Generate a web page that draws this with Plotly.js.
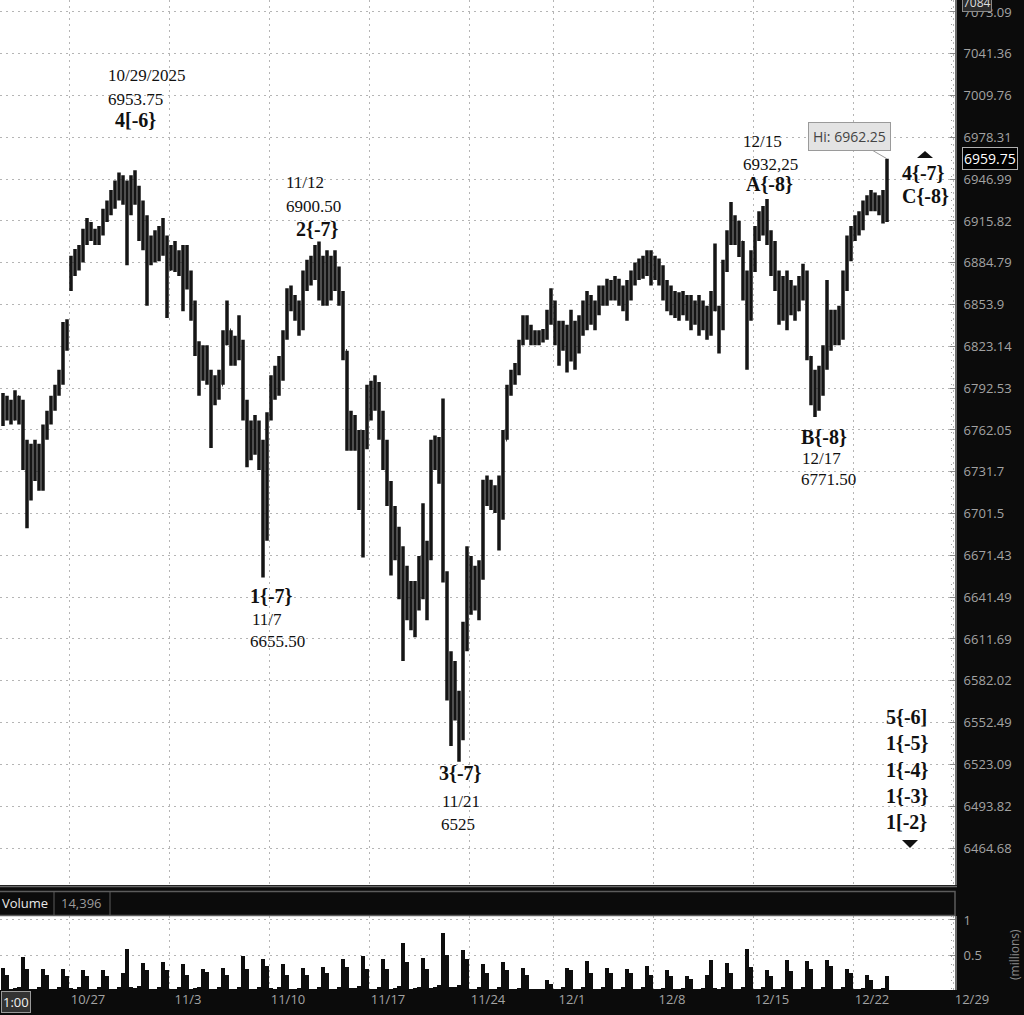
<!DOCTYPE html>
<html><head><meta charset="utf-8">
<script src="https://cdn.plot.ly/plotly-3.0.1.min.js"></script>
<style>html,body{margin:0;padding:0;background:#0b0b0b;}#chart{width:1024px;height:1015px;}</style>
</head><body><div id="chart"></div>
<script>
// ---- data (bar = ~1/5 trading day) ----
const openP = [
6780,6772,6782,6770,6786,6775,6740,6715,6735,6740,6725,6760,6770,6782,6790,6800,6838,
6866,6882,6885,6892,6905,6910,6905,6902,6908,6920,6926,6935,6940,6945,6938,6930,6940,6935,6910,6900,6885,6895,6890,6900,6895,
6880,6890,6885,6880,6870,6875,6850,6825,6800,6810,6800,6785,6790,6795,6825,6835,6815,6825,6820,6780,6745,6755,6750,6740,6690,
6772,6795,6800,6810,6830,6860,6855,6848,6840,6875,6880,6885,6895,6880,6870,6885,6875,6880,6860,6820,6760,6770,6750,6720,6750,
6785,6790,6795,6770,6745,6715,6700,6690,6660,6630,6645,6625,6640,6660,6680,6670,6740,6750,6735,6655,6580,6560,6570,6545,6610,
6640,6645,6650,6660,6715,6720,6710,6715,6700,6755,6790,6800,6808,6825,6840,6835,6830,6832,6828,6832,6845,
6850,6830,6825,6835,6815,6830,6820,6840,6850,6845,6850,6855,6860,6858,6865,6862,6868,6860,6855,6870,6875,6880,6885,6882,6888,
6875,6885,6870,6860,6855,6850,6852,6848,6855,6850,6845,6850,6840,6845,6835,6855,6850,6840,6880,6902,6915,6905,6900,6870,6850,
6880,6905,6915,6920,6905,6885,6870,6850,6865,6855,6860,6850,6865,6870,6815,6790,6785,6800,6815,6830,6835,6830,6845,6870,6895,
6905,6912,6920,6928,6930,6935,6928,6932,6925];
const highP = [
6789,6787,6784,6791,6787,6784,6755,6752,6755,6752,6766,6776,6787,6795,6806,6841,6843,
6890,6895,6898,6910,6918,6915,6910,6912,6925,6931,6939,6946,6952,6950,6946,6950,6953.75,6942,6931,6920,6905,6909,6912,6918,6905,
6898,6901,6894,6898,6898,6879,6857,6827,6824,6824,6806,6802,6806,6835,6857,6835,6831,6846,6828,6784,6769,6773,6769,6755,6775,
6802,6809,6816,6835,6866,6868,6861,6857,6879,6887,6890,6898,6900.5,6890,6894,6890,6894,6882,6864,6820,6776,6773,6762,6762,6795,
6798,6802,6797,6776,6755,6725,6707,6692,6678,6664,6653,6653,6671,6709,6682,6755,6758,6757,6785,6660,6603,6596,6575,6624,6678,
6671,6664,6668,6726,6729,6726,6722,6729,6762,6795,6806,6811,6828,6846,6846,6839,6835,6835,6836,6850,6866,
6857,6842,6842,6839,6850,6842,6846,6857,6864,6861,6857,6868,6868,6873,6872,6875,6873,6868,6872,6879,6885,6888,6890,6894,6894,
6890,6888,6883,6872,6868,6864,6863,6864,6861,6861,6857,6861,6857,6853,6864,6899,6853,6887,6909,6930,6920,6916,6901,6879,6894,
6912,6923,6927,6932.25,6909,6901,6879,6875,6879,6872,6868,6875,6884,6879,6816,6806,6809,6824,6872,6850,6850,6853,6879,6905,6912,
6920,6923,6931,6935,6939,6937,6935,6939,6962.25];
const lowP = [
6765,6769,6766,6769,6766,6733,6691,6711,6725,6718,6718,6755,6766,6776,6787,6795,6820,
6864,6875,6879,6885,6898,6901,6898,6898,6905,6915,6920,6925,6931,6928,6883,6920,6928,6901,6894,6853,6883,6885,6886,6890,6844,
6879,6878,6875,6849,6865,6842,6816,6787,6798,6795,6749,6780,6784,6795,6824,6809,6809,6813,6769,6735,6740,6744,6733,6655.5,6682,
6769,6784,6787,6798,6828,6849,6842,6831,6835,6864,6868,6872,6857,6853,6853,6857,6864,6853,6813,6747,6747,6747,6704,6670,6748,
6769,6776,6755,6733,6707,6657,6668,6640,6596,6625,6618,6613,6632,6640,6625,6668,6733,6723,6652,6568,6536,6554,6525,6540,6603,
6629,6632,6625,6654,6707,6704,6702,6675,6697,6755,6787,6795,6802,6824,6828,6824,6824,6824,6826,6828,6839,
6824,6809,6820,6804,6812,6806,6818,6831,6835,6839,6835,6846,6853,6853,6857,6857,6853,6849,6842,6857,6868,6872,6873,6875,6868,
6872,6868,6857,6849,6846,6844,6842,6846,6842,6835,6839,6831,6835,6828,6831,6849,6818,6835,6878,6898,6898,6889,6857,6806,6842,
6878,6901,6905,6898,6875,6864,6839,6842,6835,6846,6842,6849,6857,6813,6780,6771.5,6776,6787,6806,6820,6824,6824,6828,6864,6886,
6901,6905,6909,6920,6923,6923,6920,6914,6915];
const closeP = [
6772,6782,6770,6786,6775,6740,6715,6735,6740,6725,6760,6770,6782,6790,6800,6838,6830,
6882,6885,6892,6905,6910,6905,6902,6908,6920,6926,6935,6940,6945,6938,6930,6940,6935,6910,6900,6885,6895,6890,6900,6895,6880,
6890,6885,6880,6870,6875,6850,6825,6800,6810,6800,6785,6790,6795,6825,6835,6815,6825,6820,6780,6745,6755,6750,6740,6690,6772,
6795,6800,6810,6830,6860,6855,6848,6840,6875,6880,6885,6895,6880,6870,6885,6875,6880,6860,6820,6760,6770,6750,6720,6750,6785,
6790,6795,6770,6745,6715,6700,6690,6660,6630,6645,6625,6640,6660,6680,6670,6740,6750,6735,6655,6580,6560,6570,6545,6610,6640,
6645,6650,6660,6715,6720,6710,6715,6700,6755,6790,6800,6808,6825,6840,6835,6830,6832,6828,6832,6845,6850,
6830,6825,6835,6815,6830,6820,6840,6850,6845,6850,6855,6860,6858,6865,6862,6868,6860,6855,6870,6875,6880,6885,6882,6888,6875,
6885,6870,6860,6855,6850,6852,6848,6855,6850,6845,6850,6840,6845,6835,6855,6850,6840,6880,6902,6915,6905,6900,6870,6850,6880,
6905,6915,6920,6905,6885,6870,6850,6865,6855,6860,6850,6865,6870,6815,6790,6785,6800,6815,6830,6835,6830,6845,6870,6895,6905,
6912,6920,6928,6930,6935,6928,6932,6925,6959.75];
// volume in millions
const volumeM = [
0.31,0.22,
0.02,0.03,0.05,0.47,0.30, 0.02,0.02,0.05,0.30,0.22, 0.02,0.02,0.04,0.30,0.20,
0.03,0.02,0.05,0.29,0.20, 0.02,0.02,0.04,0.28,0.20, 0.02,0.02,0.05,0.25,0.59, 0.04,0.03,0.06,0.39,0.28, 0.02,0.02,0.05,0.40,0.28,
0.02,0.02,0.04,0.37,0.22, 0.02,0.03,0.05,0.30,0.26, 0.02,0.02,0.05,0.31,0.22, 0.02,0.02,0.05,0.48,0.30, 0.02,0.02,0.05,0.45,0.35,
0.03,0.02,0.04,0.37,0.22, 0.02,0.02,0.03,0.31,0.22, 0.02,0.02,0.04,0.33,0.24, 0.02,0.02,0.05,0.45,0.33, 0.03,0.03,0.06,0.48,0.30,
0.02,0.02,0.05,0.45,0.30, 0.02,0.03,0.06,0.67,0.40, 0.02,0.03,0.05,0.46,0.30, 0.03,0.04,0.07,0.82,0.50, 0.04,0.04,0.07,0.57,0.45,
0.02,0.02,0.04,0.37,0.25, 0.02,0.02,0.04,0.40,0.28, 0.02,0.02,0.03,0.31,0.22, 0.01,0.01,0.02, 0.01,0.14,0.08,
0.02,0.02,0.04,0.31,0.28, 0.02,0.02,0.04,0.41,0.25, 0.02,0.02,0.04,0.31,0.24, 0.02,0.02,0.04,0.30,0.24, 0.02,0.02,0.04,0.35,0.22,
0.02,0.02,0.03,0.28,0.20, 0.02,0.02,0.03,0.20,0.16, 0.02,0.02,0.03,0.22,0.43, 0.03,0.02,0.04,0.38,0.25, 0.02,0.02,0.04,0.59,0.33,
0.02,0.02,0.04,0.29,0.20, 0.02,0.02,0.05,0.43,0.27, 0.02,0.02,0.04,0.41,0.30, 0.02,0.02,0.05,0.43,0.35, 0.02,0.02,0.04,0.30,0.25,
0.02,0.02,0.03,0.22,0.15, 0.02,0.02,0.03,0.20];
// week boundaries (bar index) and labels
const weekPos = [16.5,41.5,66.5,91.5,116.5,137.5,162.5,187.5,212.5,237.5];
const weekLabels = ['10/27','11/3','11/10','11/17','11/24','12/1','12/8','12/15','12/22','12/29'];
const priceTicks = [7073.09,7041.36,7009.76,6978.31,6946.99,6915.82,6884.79,6853.9,6823.14,6792.53,6762.05,6731.7,6701.5,6671.43,6641.49,6611.69,6582.02,6552.49,6523.09,6493.82,6464.68];
const priceTickText = priceTicks.map(v => String(v));
const volTicks = [0.5, 1];
const volTickText = ['0.5', '1'];

const idx = openP.map((_, i) => i);
const W = 1024, H = 1015;
const px = x => x / W, py = y => 1 - y / H;

const ohlc = {
  type: 'ohlc', x: idx, open: openP, high: highP, low: lowP, close: closeP,
  xaxis: 'x', yaxis: 'y', hoverinfo: 'skip', tickwidth: 0.2,
  increasing: {line: {color: '#151515', width: 3.5}},
  decreasing: {line: {color: '#151515', width: 3.5}}
};
const vol = {
  type: 'bar', x: idx, y: volumeM, xaxis: 'x2', yaxis: 'y2', hoverinfo: 'skip',
  marker: {color: '#0d0d0d', line: {width: 0}}, width: 0.8
};

const axFont = {family: 'Open Sans, Noto Sans, sans-serif', size: 13, color: '#a3a3a3'};
const gridC = '#b5b5b5', gridD = '2px,4px';
const serif = 'Liberation Serif, Times New Roman, serif';

function T(text, x, y, size, bold) {
  return {text: bold ? '<b>' + text + '</b>' : text, xref: 'paper', yref: 'paper',
    x: px(x), y: py(y), xanchor: 'left', yanchor: 'middle', showarrow: false,
    font: {family: serif, size: size, color: '#111'}};
}
const annotations = [
  T('10/29/2025', 106, 76, 17), T('6953.75', 106, 99, 17), T('4[-6}', 113, 120, 20, true),
  T('11/12', 284, 183, 17), T('6900.50', 284, 206, 17), T('2{-7}', 294, 229, 20, true),
  T('1{-7}', 248, 596, 20, true), T('11/7', 250, 619, 17), T('6655.50', 248, 641, 17),
  T('3{-7}', 437, 773, 20, true), T('11/21', 440, 801, 17), T('6525', 439, 824, 17),
  T('12/15', 741, 142, 17), T('6932,25', 741, 164, 17), T('A{-8}', 744, 184, 20, true),
  T('B{-8}', 799, 437, 20, true), T('12/17', 800, 458, 17), T('6771.50', 799, 479, 17),
  T('4{-7}', 900, 173, 20, true), T('C{-8}', 900, 196, 20, true),
  T('5{-6]', 884, 717, 20, true), T('1{-5}', 884, 743, 20, true), T('1{-4}', 884, 770, 20, true),
  T('1{-3}', 884, 796, 20, true), T('1[-2}', 884, 822, 20, true),
  {text: 'Hi: 6962.25', x: idx[idx.length - 1], y: Math.log10(highP[highP.length - 1]), xref: 'x', yref: 'y',
   showarrow: true, arrowhead: 0, arrowwidth: 1, arrowcolor: '#9a9a9a', ax: -38, ay: -22, standoff: 0,
   bgcolor: '#e3e3e3', bordercolor: '#9a9a9a', borderwidth: 1, borderpad: 4,
   font: {family: 'Open Sans, sans-serif', size: 14, color: '#444'}},
  {text: closeP[closeP.length - 1].toFixed(2), xref: 'paper', yref: 'paper', x: px(962), y: py(158),
   xanchor: 'left', yanchor: 'middle', showarrow: false, bgcolor: '#000', bordercolor: '#b0b0b0',
   borderwidth: 1, borderpad: 1, font: {family: 'Open Sans, sans-serif', size: 14, color: '#fff'}},
  {text: '7084', xref: 'paper', yref: 'paper', x: px(962), y: py(3), xanchor: 'left', yanchor: 'middle',
   showarrow: false, bgcolor: '#2b2b2b', bordercolor: '#8a8a8a', borderwidth: 1, borderpad: 0,
   font: {family: 'Open Sans, sans-serif', size: 12, color: '#ddd'}},
  {text: '1:00', xref: 'paper', yref: 'paper', x: px(1), y: py(1002), xanchor: 'left', yanchor: 'middle',
   showarrow: false, bgcolor: '#333', bordercolor: '#9a9a9a', borderwidth: 1, borderpad: 1,
   font: {family: 'Open Sans, sans-serif', size: 13, color: '#f0f0f0'}},
  {text: 'Volume', xref: 'paper', yref: 'paper', x: px(0), y: py(903), xanchor: 'left', yanchor: 'middle',
   showarrow: false, font: {family: 'Open Sans, sans-serif', size: 13, color: '#e8e8e8'}},
  {text: '14,396', xref: 'paper', yref: 'paper', x: px(59), y: py(903), xanchor: 'left', yanchor: 'middle',
   showarrow: false, font: {family: 'Open Sans, sans-serif', size: 13, color: '#9a9a9a'}},
  {text: '(millions)', xref: 'paper', yref: 'paper', x: px(1014), y: py(955), xanchor: 'center', yanchor: 'middle',
   textangle: -90, showarrow: false, font: {family: 'Open Sans, sans-serif', size: 12, color: '#8a8a8a'}}
];

const shapes = [
  {type: 'line', xref: 'paper', yref: 'paper', x0: 0, x1: px(957), y0: py(886.5), y1: py(886.5), line: {color: '#6a6a6a', width: 1.5}},
  {type: 'rect', xref: 'paper', yref: 'paper', x0: px(-2), x1: px(955), y0: py(891.5), y1: py(915.5), fillcolor: '#0b0b0b', line: {color: '#5c5c5c', width: 1.5}},
  {type: 'line', xref: 'paper', yref: 'paper', x0: px(54), x1: px(54), y0: py(891.5), y1: py(915.5), line: {color: '#5c5c5c', width: 1}},
  {type: 'line', xref: 'paper', yref: 'paper', x0: px(110), x1: px(110), y0: py(891.5), y1: py(915.5), line: {color: '#5c5c5c', width: 1}},
  {type: 'line', xref: 'paper', yref: 'paper', x0: px(951.5), x1: px(951.5), y0: py(0), y1: py(885), line: {color: '#9a9a9a', width: 1, dash: '1px,7px'}},
  {type: 'line', xref: 'paper', yref: 'paper', x0: px(951.5), x1: px(951.5), y0: py(916), y1: py(990), line: {color: '#9a9a9a', width: 1, dash: '1px,7px'}},
  {type: 'path', xref: 'paper', yref: 'paper', path: `M ${px(917)} ${py(158)} L ${px(933)} ${py(158)} L ${px(925)} ${py(151)} Z`, fillcolor: '#111', line: {width: 0}},
  {type: 'path', xref: 'paper', yref: 'paper', path: `M ${px(902)} ${py(840)} L ${px(918)} ${py(840)} L ${px(910)} ${py(848)} Z`, fillcolor: '#111', line: {width: 0}}
];

const layout = {
  width: W, height: H, margin: {l: 0, r: 0, t: 0, b: 0, pad: 0},
  paper_bgcolor: '#0b0b0b', plot_bgcolor: '#ffffff', showlegend: false, hovermode: false,
  bargap: 0,
  xaxis: {domain: [0, px(955)], range: [-0.75, 238], tickvals: weekPos, showticklabels: false,
    showgrid: true, gridcolor: gridC, griddash: gridD, zeroline: false, ticks: '',
    rangeslider: {visible: false}, anchor: 'y', fixedrange: true},
  yaxis: {domain: [1 - 885 / H, 1], type: 'log', range: [3.808818, 3.850169], side: 'right',
    tickvals: priceTicks, ticktext: priceTickText, tickfont: axFont, showgrid: true,
    gridcolor: gridC, griddash: gridD, ticks: 'inside', ticklen: 5, tickcolor: '#8a8a8a',
    showline: true, linecolor: '#6e6e6e', linewidth: 2, zeroline: false, anchor: 'x',
    ticklabelstandoff: 4, fixedrange: true},
  xaxis2: {domain: [0, px(955)], range: [-0.75, 238], tickvals: weekPos, ticktext: weekLabels,
    tickfont: axFont, showgrid: true, gridcolor: gridC, griddash: gridD, zeroline: false,
    ticks: '', anchor: 'y2', ticklabelshift: 19, rangeslider: {visible: false}, fixedrange: true},
  yaxis2: {domain: [25 / H, 99 / H], range: [0, 1.057], side: 'right', tickvals: volTicks,
    ticktext: volTickText, tickfont: axFont, showgrid: true, gridcolor: gridC, griddash: gridD,
    ticks: 'inside', ticklen: 5, tickcolor: '#8a8a8a', showline: true, linecolor: '#6e6e6e',
    linewidth: 2, zeroline: false, anchor: 'x2', ticklabelstandoff: 4, fixedrange: true},
  annotations: annotations, shapes: shapes
};

Plotly.newPlot('chart', [ohlc, vol], layout, {displayModeBar: false, staticPlot: true});
</script></body></html>
